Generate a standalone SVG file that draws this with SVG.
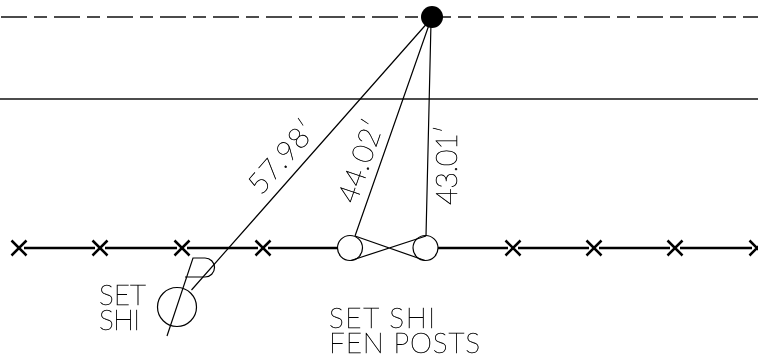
<svg xmlns="http://www.w3.org/2000/svg" width="758" height="356" viewBox="0 0 758 356">
<style>
.l{fill:none;stroke:#000;stroke-width:1.2}
.g{fill:none;stroke:#111;stroke-width:1.6}
.f{fill:none;stroke:#000;stroke-width:2.500}
.t{font-family:"Lato","Liberation Sans",sans-serif;font-weight:200;font-size:28px;fill:#000;stroke:#000;stroke-width:.5}
</style>
<defs><path id="x" class="f" d="M-7.500-7.500L7.500 7.500M-7.500 7.500L7.500-7.500"/></defs>
<rect width="758" height="356" fill="#fff"/>
<g id="connectors">
<line class="g" x1="-52" y1="17" x2="758" y2="17" stroke-dasharray="26 7 13 7"/>
<line class="g" x1="0" y1="99" x2="758" y2="99"/>
<path class="f" d="M24 248H95M105 248H177M187 248H258M268 248H338M438 248H508M518 248H589M599 248H670M680 248H752"/>
<path class="l" d="M430 20L191.500 290M430 22L355 236M431 22L426 236"/>
<path class="l" d="M355 236L425 260.500M351 260.500L426 236"/>
<path class="l" d="M167 336L193 258H205A9.500 9.500 0 0 1 205 277H185"/>
</g>
<g id="fence-marks">
<use href="#x" x="19" y="248"/><use href="#x" x="100" y="248"/><use href="#x" x="182" y="248"/><use href="#x" x="263" y="248"/><use href="#x" x="513" y="248"/><use href="#x" x="594" y="248"/><use href="#x" x="675" y="248"/><use href="#x" x="757" y="248"/>
</g>
<g id="point"><circle cx="432" cy="17" r="11"/></g>
<g id="post-a"><circle class="l" cx="350" cy="248" r="12.500"/></g>
<g id="post-b"><circle class="l" cx="425.500" cy="248" r="12.500"/></g>
<g id="shi"><circle class="l" cx="177" cy="307" r="19.500"/></g>
<g id="labels" opacity=".99">
<text class="t" x="99" y="305" textLength="47">SET</text>
<text class="t" x="99" y="330" textLength="41">SHI</text>
<text class="t" x="329" y="328" textLength="106">SET SHI</text>
<text class="t" x="329" y="353" textLength="151">FEN POSTS</text>
<text class="t" style="font-size:29px" transform="translate(261 196) rotate(-48.800)" textLength="86">57.98′</text>
<text class="t" style="font-size:29px" transform="translate(356 205) rotate(-70.900)" textLength="86">44.02′</text>
<text class="t" style="font-size:29px" transform="translate(457 205) rotate(-90)" textLength="80">43.01′</text>
</g>
</svg>
